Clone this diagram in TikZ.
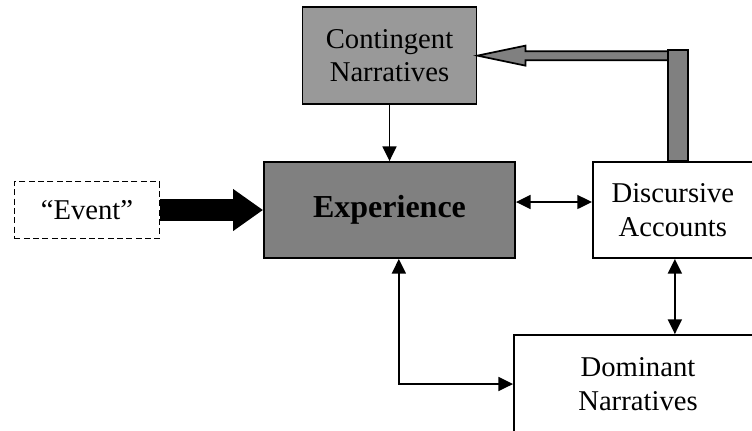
\documentclass[tikz,border=0pt]{standalone}
\usepackage{fontspec}
\setmainfont{Liberation Serif}
\usepackage{tikz}
\tikzstyle{block}=[draw, line width=1.4pt, align=center, inner sep=0pt, font=\fontsize{21.5}{25}\selectfont]
\tikzstyle{arrow}=[line width=1.2pt,->,>={Triangle[length=11pt,width=10.5pt]}]
\tikzstyle{bigarrow}=[line width=16.5pt,-{Triangle[length=22.5pt,width=30pt]}]
\tikzstyle{hollow}=[draw, line width=1.3pt, fill=gray, line join=miter]
\usetikzlibrary{shapes.geometric,arrows,arrows.meta,positioning,calc}

\begin{document}
\begin{tikzpicture}[x=0.75pt,y=-0.75pt]
\useasboundingbox (0,0) rectangle (752,430);
\node (exp) [block,fill=gray,minimum width=188.25pt,minimum height=72pt,font=\fontsize{24}{28}\selectfont\bfseries] at (389.5,210) {Experience};
\node (cont) [block,fill=black!40,above=42pt of exp,minimum width=130.5pt,minimum height=72.75pt] {Contingent\\Narratives};
\node (disc) [block,right=57pt of exp,minimum width=120pt,minimum height=72pt] {Discursive\\Accounts};
\node (event) [block,dashed,dash pattern=on 4.5pt off 2.5pt,left=77pt of exp,minimum width=108.75pt,minimum height=42.75pt] {“Event”};
\node (dom) [block,minimum width=186pt,minimum height=73.5pt] at (638,384) {Dominant\\Narratives};
% feedback from accounts to contingent narratives
\path (disc.north) ++(-5,0) coordinate (bl) ++(20,0) coordinate (br);
\draw[hollow] (bl) rectangle ($(br |- cont.east)+(0,-5.5)$);
\draw[hollow] (cont.east) -- ++(48,-10) -- ++(0,5.5) -- ($(bl |- cont.east)+(0,-4.5)$)
  -- ++(0,9) -- ($(cont.east)+(48,4.5)$) -- ++(0,5.5) -- cycle;
\draw[bigarrow] (event)--(exp);
\draw[arrow] (cont)--(exp);
\draw[arrow,<->] ([yshift=6pt]exp.east)--([yshift=6pt]exp.east -| disc.west);
\draw[arrow,<->] ([xshift=1.5pt]disc.south)--([xshift=1.5pt]disc.south |- dom.north);
\draw[arrow,<->] ([xshift=7pt]exp.south) |- (dom.west);
\end{tikzpicture}
\end{document}
